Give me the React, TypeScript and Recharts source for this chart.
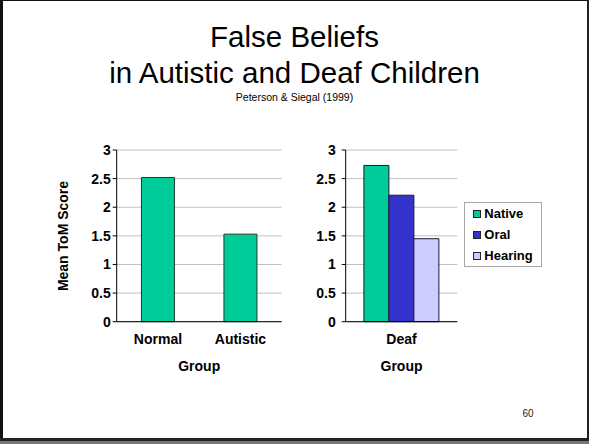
import React from 'react';
import { BarChart, Bar, XAxis, YAxis, CartesianGrid, Legend } from 'recharts';

const leftCategories = ['Normal', 'Autistic'];
const leftScores = [2.52, 1.53];

const deafCategories = ['Deaf'];
const nativeScores = [2.73];
const oralScores = [2.21];
const hearingScores = [1.45];

const yTicks = [0, 0.5, 1, 1.5, 2, 2.5, 3];

const seriesNames = ['Native', 'Oral', 'Hearing'];
const seriesColors = ['#00CC99', '#3333CC', '#CCCCFF'];

const FONT = '"Liberation Sans", Arial, sans-serif';

const leftData = leftCategories.map((c, i) => ({ name: c, score: leftScores[i] }));
const deafData = deafCategories.map((c, i) => ({
  name: c,
  Native: nativeScores[i],
  Oral: oralScores[i],
  Hearing: hearingScores[i],
}));

const tickStyle = { fontFamily: FONT, fontSize: 14, fontWeight: 700, fill: '#000' };

const LegendBox = () => (
  <div
    style={{
      border: '1px solid #A6A6A6',
      background: '#fff',
      boxSizing: 'border-box',
      width: 78,
      height: 65,
      fontFamily: FONT,
      fontWeight: 700,
      fontSize: 13,
    }}
  >
    {seriesNames.map((n, i) => (
      <div key={n} style={{ display: 'flex', alignItems: 'center', height: 21, paddingLeft: 8 }}>
        <span
          style={{
            display: 'inline-block',
            width: 8,
            height: 8,
            boxSizing: 'border-box',
            background: seriesColors[i],
            border: '1px solid #222',
            marginRight: 3,
          }}
        />
        <span style={{ color: '#000' }}>{n}</span>
      </div>
    ))}
  </div>
);

export default function App() {
  return (
    <div
      style={{
        position: 'absolute',
        left: 0,
        top: 0,
        width: 589,
        height: 444,
        background: '#fff',
        overflow: 'hidden',
      }}
    >
      {/* frame */}
      <div style={{ position: 'absolute', left: 0, top: 0, width: 589, height: 1, background: '#111' }} />
      <div style={{ position: 'absolute', left: 0, top: 0, width: 3, height: 441, background: '#111' }} />
      <div style={{ position: 'absolute', left: 587, top: 0, width: 2, height: 441, background: '#222' }} />
      <div style={{ position: 'absolute', left: 0, top: 438, width: 589, height: 3, background: '#222' }} />
      <div style={{ position: 'absolute', left: 0, top: 441, width: 589, height: 3, background: '#777' }} />

      <svg style={{ position: 'absolute', left: 0, top: 0 }} width={589} height={444}>
        <text x={294.5} y={47} textAnchor="middle" fontFamily={FONT} fontSize={29.5} fill="#000">
          False Beliefs
        </text>
        <text x={294.5} y={83} textAnchor="middle" fontFamily={FONT} fontSize={29.5} fill="#000">
          in Autistic and Deaf Children
        </text>
        <text x={294.5} y={101} textAnchor="middle" fontFamily={FONT} fontSize={10.5} fill="#000">
          Peterson &amp; Siegal (1999)
        </text>
        <text x={528} y={417} textAnchor="middle" fontFamily={FONT} fontSize={10} fill="#222">
          60
        </text>
      </svg>

      <div style={{ position: 'absolute', left: 0, top: 0 }}>
        <BarChart
          width={290}
          height={444}
          data={leftData}
          margin={{ top: 150, right: 8.3, left: 0, bottom: 62.3 }}
          barCategoryGap="30%"
        >
          <CartesianGrid vertical={false} stroke="#C0C0C0" />
          <XAxis
            dataKey="name"
            height={60}
            tickLine={false}
            tickSize={0}
            tickMargin={12}
            axisLine={{ stroke: '#000' }}
            tick={tickStyle}
            label={{
              value: 'Group',
              position: 'insideBottom',
              offset: 11,
              style: { fontFamily: FONT, fontSize: 14, fontWeight: 700, fill: '#000' },
            }}
          />
          <YAxis
            width={116.7}
            domain={[0, 3]}
            ticks={yTicks}
            interval={0}
            tickSize={4}
            tickMargin={2}
            axisLine={{ stroke: '#000' }}
            tickLine={{ stroke: '#000' }}
            tick={tickStyle}
            label={{
              content: () => (
                <text
                  x={68}
                  y={236}
                  transform="rotate(-90 68 236)"
                  textAnchor="middle"
                  fontFamily={FONT}
                  fontSize={14}
                  fontWeight={700}
                  fill="#000"
                >
                  Mean ToM Score
                </text>
              ),
            }}
          />
          <Bar dataKey="score" fill="#00CC99" stroke="#1f3a30" strokeWidth={1} isAnimationActive={false} />
        </BarChart>
      </div>

      <div style={{ position: 'absolute', left: 290, top: 0 }}>
        <BarChart
          width={299}
          height={444}
          data={deafData}
          margin={{ top: 150, right: 131.7, left: 0, bottom: 62.3 }}
          barCategoryGap="16.3%"
          barGap={0}
        >
          <CartesianGrid vertical={false} stroke="#C0C0C0" />
          <XAxis
            dataKey="name"
            height={60}
            tickLine={false}
            tickSize={0}
            tickMargin={12}
            axisLine={{ stroke: '#000' }}
            tick={tickStyle}
            label={{
              value: 'Group',
              position: 'insideBottom',
              offset: 11,
              style: { fontFamily: FONT, fontSize: 14, fontWeight: 700, fill: '#000' },
            }}
          />
          <YAxis
            width={55.7}
            domain={[0, 3]}
            ticks={yTicks}
            interval={0}
            tickSize={4}
            tickMargin={6}
            axisLine={{ stroke: '#000' }}
            tickLine={{ stroke: '#000' }}
            tick={tickStyle}
          />
          <Legend
            layout="vertical"
            align="center"
            verticalAlign="middle"
            content={() => <LegendBox />}
            wrapperStyle={{ left: 174.3, top: 202.3, width: 78, height: 65 }}
          />
          {seriesNames.map((n, i) => (
            <Bar
              key={n}
              dataKey={n}
              fill={seriesColors[i]}
              stroke="#1a1a33"
              strokeWidth={1}
              isAnimationActive={false}
            />
          ))}
        </BarChart>
      </div>
    </div>
  );
}
